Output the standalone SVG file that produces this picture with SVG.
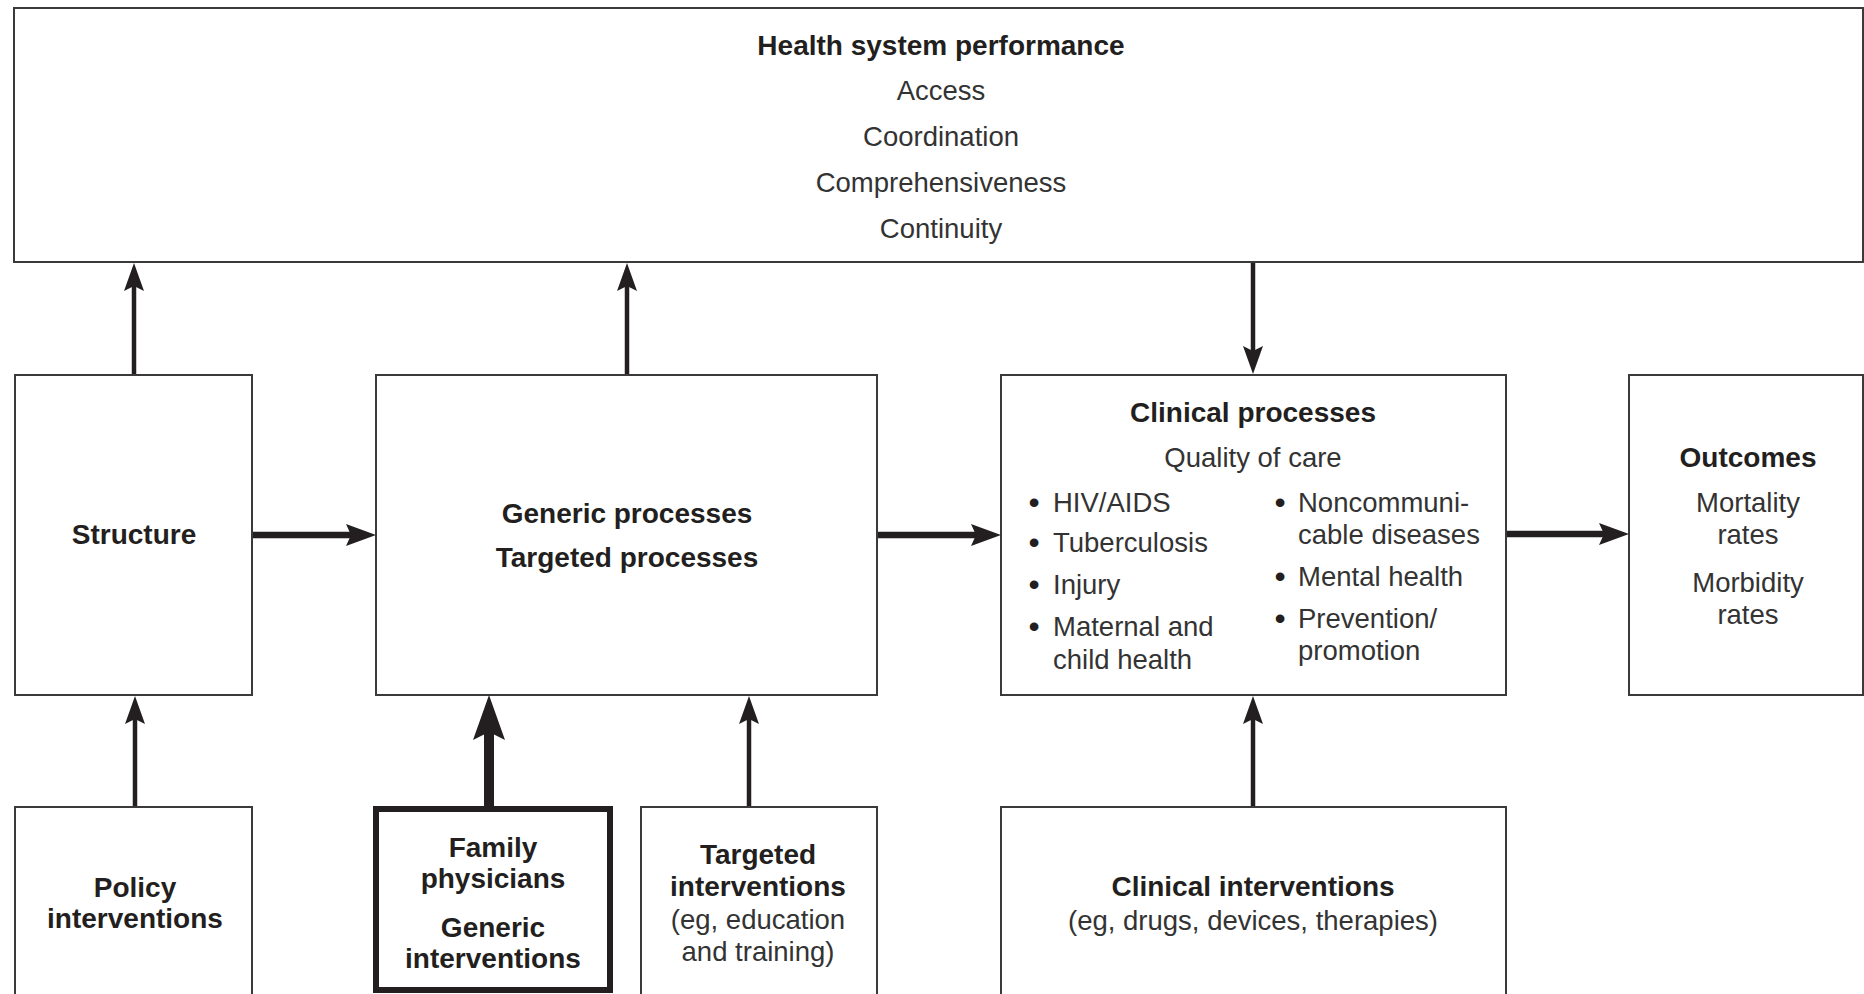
<svg xmlns="http://www.w3.org/2000/svg" width="1864" height="994" viewBox="0 0 1864 994">
<style>
.box{fill:#fff;stroke:#3a3a3a;stroke-width:2}
.thick{fill:#fff;stroke:#231f20;stroke-width:6}
text{font-family:"Liberation Sans",Arial,sans-serif;font-size:27.5px;fill:#333;text-anchor:middle}
.b{font-weight:bold;font-size:28px;fill:#231f20}
.l{text-anchor:start}
.dot{font-size:32px;fill:#231f20}
.c{stroke:#231f20;fill:none}
.thin{stroke-width:4.5;marker-end:url(#h1)}
.hz{stroke-width:6.5;marker-end:url(#h2)}
.big{stroke-width:10;marker-end:url(#h3)}
</style>
<defs>
<marker id="h1" markerUnits="userSpaceOnUse" viewBox="0 0 28 20" markerWidth="28" markerHeight="20" refX="8" refY="10" orient="auto"><path d="M0,0 L28,10 L0,20 L5,10 Z" fill="#231f20"/></marker>
<marker id="h2" markerUnits="userSpaceOnUse" viewBox="0 0 30 22" markerWidth="30" markerHeight="22" refX="10" refY="11" orient="auto"><path d="M0,0 L30,11 L0,22 L5,11 Z" fill="#231f20"/></marker>
<marker id="h3" markerUnits="userSpaceOnUse" viewBox="0 0 45 32" markerWidth="45" markerHeight="32" refX="15" refY="16" orient="auto"><path d="M0,0 L45,16 L0,32 L8,16 Z" fill="#231f20"/></marker>
</defs>
<rect width="1864" height="994" fill="#fff"/>
<g id="performance">
<rect class="box" x="14" y="8" width="1849" height="254"/>
<text class="b" x="941" y="55">Health system performance</text>
<text x="941" y="100">Access</text>
<text x="941" y="146">Coordination</text>
<text x="941" y="192">Comprehensiveness</text>
<text x="941" y="238">Continuity</text>
</g>
<g id="structure">
<rect class="box" x="15" y="375" width="237" height="320"/>
<text class="b" x="134" y="544">Structure</text>
</g>
<g id="processes">
<rect class="box" x="376" y="375" width="501" height="320"/>
<text class="b" x="627" y="523">Generic processes</text>
<text class="b" x="627" y="567">Targeted processes</text>
</g>
<g id="clinical">
<rect class="box" x="1001" y="375" width="505" height="320"/>
<text class="b" x="1253" y="422">Clinical processes</text>
<text x="1253" y="467">Quality of care</text>
<text class="dot" x="1034" y="513">•</text><text class="l" x="1053" y="512">HIV/AIDS</text>
<text class="dot" x="1034" y="553">•</text><text class="l" x="1053" y="552">Tuberculosis</text>
<text class="dot" x="1034" y="595">•</text><text class="l" x="1053" y="594">Injury</text>
<text class="dot" x="1034" y="637">•</text><text class="l" x="1053" y="636">Maternal and</text>
<text class="l" x="1053" y="669">child health</text>
<text class="dot" x="1280" y="513">•</text><text class="l" x="1298" y="512">Noncommuni-</text>
<text class="l" x="1298" y="544">cable diseases</text>
<text class="dot" x="1280" y="587">•</text><text class="l" x="1298" y="586">Mental health</text>
<text class="dot" x="1280" y="629">•</text><text class="l" x="1298" y="628">Prevention/</text>
<text class="l" x="1298" y="660">promotion</text>
</g>
<g id="outcomes">
<rect class="box" x="1629" y="375" width="234" height="320"/>
<text class="b" x="1748" y="467">Outcomes</text>
<text x="1748" y="512">Mortality</text>
<text x="1748" y="544">rates</text>
<text x="1748" y="592">Morbidity</text>
<text x="1748" y="624">rates</text>
</g>
<g id="policy">
<rect class="box" x="15" y="807" width="237" height="200"/>
<text class="b" x="135" y="897">Policy</text>
<text class="b" x="135" y="928">interventions</text>
</g>
<g id="family">
<rect class="thick" x="376" y="809" width="234" height="181"/>
<text class="b" x="493" y="857">Family</text>
<text class="b" x="493" y="888">physicians</text>
<text class="b" x="493" y="937">Generic</text>
<text class="b" x="493" y="968">interventions</text>
</g>
<g id="targeted">
<rect class="box" x="641" y="807" width="236" height="200"/>
<text class="b" x="758" y="864">Targeted</text>
<text class="b" x="758" y="896">interventions</text>
<text x="758" y="929">(eg, education</text>
<text x="758" y="961">and training)</text>
</g>
<g id="clinical-interventions">
<rect class="box" x="1001" y="807" width="505" height="200"/>
<text class="b" x="1253" y="896">Clinical interventions</text>
<text x="1253" y="930">(eg, drugs, devices, therapies)</text>
</g>
<g id="connectors">
<line class="c hz" x1="253" y1="535" x2="356" y2="535"/>
<line class="c hz" x1="878" y1="535" x2="981" y2="535"/>
<line class="c hz" x1="1507" y1="534" x2="1609" y2="534"/>
<line class="c thin" x1="134" y1="374" x2="134" y2="283"/>
<line class="c thin" x1="627" y1="374" x2="627" y2="283"/>
<line class="c thin" x1="1253" y1="263" x2="1253" y2="354"/>
<line class="c thin" x1="135" y1="806" x2="135" y2="716"/>
<line class="c big" x1="489" y1="806" x2="489" y2="725"/>
<line class="c thin" x1="749" y1="806" x2="749" y2="716"/>
<line class="c thin" x1="1253" y1="806" x2="1253" y2="716"/>
</g>
</svg>
